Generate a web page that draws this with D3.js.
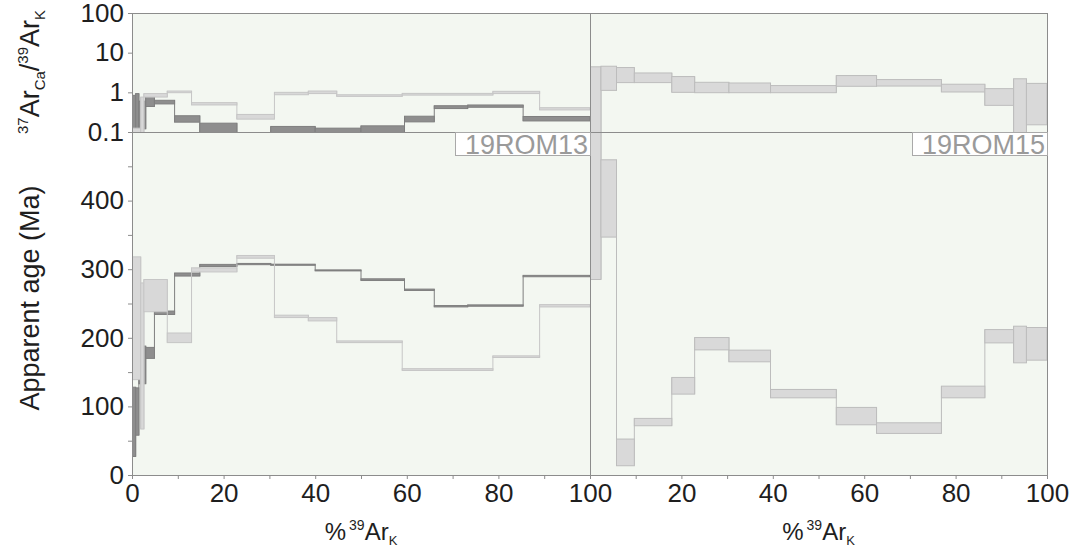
<!DOCTYPE html>
<html>
<head>
<meta charset="utf-8">
<script src="https://cdn.jsdelivr.net/npm/d3@7"></script>
<style>
  html, body { margin: 0; padding: 0; background: #fff; }
  svg { display: block; font-family: "Liberation Sans", Arial, Helvetica, sans-serif; }
</style>
</head>
<body>
<svg id="chart" width="1073" height="550"></svg>
<script>
// ---- 19ROM13, aliquot in dark grey: step edges (% 39ArK) and 2-sigma ranges ----
const rom13aEdges = [0, 0.8, 1.5, 3.0, 4.9, 9.3, 14.8, 22.9, 30.3, 40, 50, 59.5, 66, 73.3, 85.4, 100];
const rom13aAgeLo = [27, 58, 133, 170, 234, 290, 304, 306.6, 305.7, 297.5, 283.5, 269, 245, 246, 289];
const rom13aAgeHi = [128, 127, 188, 186, 239, 294.5, 307, 308.4, 307.3, 299, 286, 271, 247, 248, 291];
const rom13aCaKLo = [0.11, 0.12, 0.12, 0.44, 0.51, 0.177, 0.096, 0.05, 0.095, 0.095, 0.095, 0.18, 0.39, 0.42, 0.19];
const rom13aCaKHi = [0.84, 0.93, 0.6, 0.79, 0.63, 0.257, 0.167, 0.09, 0.138, 0.125, 0.143, 0.25, 0.46, 0.48, 0.246];

// ---- 19ROM13, aliquot in light grey ----
const rom13bEdges = [0, 1.9, 2.6, 7.7, 13, 22.9, 31.1, 38.5, 44.7, 59, 78.8, 89, 100];
const rom13bAgeLo = [139, 67, 238, 193, 296, 316, 229.5, 224.6, 193, 152.4, 171.3, 245];
const rom13bAgeHi = [318, 280, 285, 207, 302, 320, 233, 229.5, 195.5, 155, 173.7, 248.4];
const rom13bCaKLo = [0.096, 0.096, 0.76, 0.98, 0.48, 0.211, 0.87, 0.93, 0.79, 0.85, 0.93, 0.36];
const rom13bCaKHi = [0.125, 0.76, 0.93, 1.08, 0.55, 0.277, 1.0, 1.08, 0.87, 0.94, 1.06, 0.41];

// ---- 19ROM15 ----
const rom15Edges = [0, 2.4, 5.8, 9.7, 17.9, 22.9, 30.4, 39.5, 53.9, 62.7, 76.9, 86.4, 92.7, 95.5, 100];
const rom15AgeLo = [285, 346.8, 13.5, 71.8, 117.9, 182.4, 165, 112.5, 73.2, 60.6, 112.5, 192.6, 163.5, 167.4];
const rom15AgeHi = [540, 459.5, 52.4, 82.5, 142.2, 200.4, 182, 124.7, 98.5, 76.1, 129.5, 212, 216.9, 215];
const rom15CaKLo = [0.05, 1.12, 1.76, 1.76, 1.0, 0.98, 0.98, 0.98, 1.42, 1.44, 1.02, 0.47, 0.09, 0.152];
const rom15CaKHi = [4.4, 4.55, 4.22, 3.08, 2.5, 1.79, 1.72, 1.48, 2.65, 2.1, 1.6, 1.24, 2.2, 1.68];

// ---- axis ticks ----
const ageTicks = [0, 50, 100, 150, 200, 250, 300, 350, 400, 450, 500];
const ageLabels = [0, 100, 200, 300, 400];
const cakTicks = [0.1, 1, 10, 100];
const cakLabels = ["0.1", "1", "10", "100"];
const pctTicks = [0, 10, 20, 30, 40, 50, 60, 70, 80, 90, 100];
const pctLabelsLeft = [0, 20, 40, 60, 80, 100];
const pctLabelsRight = [20, 40, 60, 80, 100];
const sampleNames = ["19ROM13", "19ROM15"];

// ---- layout ----
const X0 = 132, XMID = 590, X1 = 1047;
const Y0 = 13, YSPLIT = 132, Y1 = 475;

const svg = d3.select("#chart");

const xL = d3.scaleLinear().domain([0, 100]).range([X0, XMID]);
const xR = d3.scaleLinear().domain([0, 100]).range([XMID, X1]);
const yCa = d3.scaleLog().domain([0.1, 100]).range([YSPLIT, Y0]);
const yAge = d3.scaleLinear().domain([0, 500]).range([Y1, YSPLIT]);

// plot background
svg.append("rect")
  .attr("x", X0).attr("y", Y0)
  .attr("width", X1 - X0).attr("height", Y1 - Y0)
  .attr("fill", "#f3f7f1");

// clip regions for the four sub-panels
const defs = svg.append("defs");
function clip(id, xa, xb, ya, yb) {
  defs.append("clipPath").attr("id", id)
    .append("rect").attr("x", xa).attr("y", ya)
    .attr("width", xb - xa).attr("height", yb - ya);
}
clip("cTL", X0, XMID, Y0, YSPLIT);
clip("cBL", X0, XMID, YSPLIT, Y1);
clip("cTR", XMID, X1, Y0, YSPLIT);
clip("cBR", XMID, X1, YSPLIT, Y1);

// step-heating spectrum: boxes joined by vertical risers
function spectrum(x, y, edges, lo, hi, fill, stroke, clipId) {
  const steps = lo.map((l, i) => ({ x0: edges[i], x1: edges[i + 1], lo: l, hi: hi[i] }));
  const g = svg.append("g").attr("clip-path", `url(#${clipId})`);
  g.selectAll("line")
    .data(steps.slice(1))
    .join("line")
    .attr("x1", d => x(d.x0)).attr("x2", d => x(d.x0))
    .attr("y1", (d, i) => y(Math.max(d.hi, steps[i].hi)))
    .attr("y2", (d, i) => y(Math.min(d.lo, steps[i].lo)))
    .attr("stroke", stroke).attr("stroke-width", 1);
  g.selectAll("rect")
    .data(steps)
    .join("rect")
    .attr("x", d => x(d.x0))
    .attr("width", d => x(d.x1) - x(d.x0))
    .attr("y", d => y(d.hi))
    .attr("height", d => Math.max(1, y(d.lo) - y(d.hi)))
    .attr("fill", fill).attr("stroke", stroke).attr("stroke-width", 1);
}

const dark = ["#8e8e8e", "#7f7f7f"];
const light = ["#d8d8d8", "#c6c6c6"];
const pale = ["#d9d9d9", "#bdbdbd"];

spectrum(xL, yCa, rom13aEdges, rom13aCaKLo, rom13aCaKHi, dark[0], dark[1], "cTL");
spectrum(xL, yAge, rom13aEdges, rom13aAgeLo, rom13aAgeHi, dark[0], dark[1], "cBL");
spectrum(xL, yCa, rom13bEdges, rom13bCaKLo, rom13bCaKHi, light[0], light[1], "cTL");
spectrum(xL, yAge, rom13bEdges, rom13bAgeLo, rom13bAgeHi, light[0], light[1], "cBL");
spectrum(xR, yCa, rom15Edges, rom15CaKLo, rom15CaKHi, pale[0], pale[1], "cTR");
spectrum(xR, yAge, rom15Edges, rom15AgeLo, rom15AgeHi, pale[0], pale[1], "cBR");

// frame and panel dividers
const frame = svg.append("g").attr("stroke", "#8c8c8c").attr("stroke-width", 1)
  .attr("shape-rendering", "crispEdges").attr("fill", "none");
frame.append("rect").attr("x", X0).attr("y", Y0)
  .attr("width", X1 - X0).attr("height", Y1 - Y0);
frame.append("line").attr("x1", X0).attr("x2", X1).attr("y1", YSPLIT).attr("y2", YSPLIT);
frame.append("line").attr("x1", XMID).attr("x2", XMID).attr("y1", Y0).attr("y2", Y1);

// sample labels
const labelBoxes = [[455, XMID], [912, X1]];
labelBoxes.forEach(([xa, xb], i) => {
  svg.append("rect").attr("x", xa).attr("y", YSPLIT).attr("width", xb - xa).attr("height", 23)
    .attr("fill", "#ffffff").attr("stroke", "#a9a9a9").attr("stroke-width", 1)
    .attr("shape-rendering", "crispEdges");
  svg.append("text").attr("x", xb - 2).attr("y", YSPLIT + 21.5)
    .attr("text-anchor", "end").attr("font-size", 27).attr("fill", "#9a9a9a")
    .text(sampleNames[i]);
});

// axes
function styleAxis(g) {
  g.select(".domain").remove();
  g.selectAll(".tick line").attr("stroke", "#8c8c8c");
  g.selectAll(".tick text").attr("fill", "#1e1e1e").attr("font-size", 26)
    .attr("font-family", "\"Liberation Sans\", Arial, Helvetica, sans-serif");
}

svg.append("g").attr("transform", `translate(${X0},0)`)
  .call(d3.axisLeft(yAge).tickValues(ageTicks).tickSize(4).tickPadding(4)
    .tickFormat(d => ageLabels.includes(d) ? String(d) : ""))
  .call(styleAxis);

svg.append("g").attr("transform", `translate(${X0},0)`)
  .call(d3.axisLeft(yCa).tickValues(cakTicks).tickSize(4).tickPadding(4)
    .tickFormat((d, i) => cakLabels[i]))
  .call(styleAxis);

svg.append("g").attr("transform", `translate(0,${Y1})`)
  .call(d3.axisBottom(xL).tickValues(pctTicks).tickSize(4).tickPadding(5)
    .tickFormat(d => pctLabelsLeft.includes(d) ? String(d) : ""))
  .call(styleAxis);

svg.append("g").attr("transform", `translate(0,${Y1})`)
  .call(d3.axisBottom(xR).tickValues(pctTicks).tickSize(4).tickPadding(5)
    .tickFormat(d => pctLabelsRight.includes(d) ? String(d) : ""))
  .call(styleAxis);

// text with super/subscripts: parts = [text, size, shift, dx]
function rich(sel, parts) {
  let prev = 0;
  parts.forEach(([t, size, shift, dx]) => {
    sel.append("tspan").attr("font-size", size).attr("dy", shift - prev)
      .attr("dx", dx || 0).text(t);
    prev = shift;
  });
}

// x-axis titles
[xL, xR].forEach(x => {
  const t = svg.append("text")
    .attr("x", (x.range()[0] + x.range()[1]) / 2).attr("y", 540)
    .attr("text-anchor", "middle").attr("fill", "#1e1e1e");
  rich(t, [["%", 24, 0], ["39", 14, -10, 3], ["Ar", 24, 0], ["K", 13, 5]]);
});

// y-axis titles
svg.append("text")
  .attr("transform", "translate(39,298) rotate(-90)")
  .attr("text-anchor", "middle").attr("font-size", 27).attr("fill", "#1e1e1e")
  .text("Apparent age (Ma)");

const yt = svg.append("text")
  .attr("transform", "translate(39,72) rotate(-90)")
  .attr("text-anchor", "middle").attr("fill", "#1e1e1e");
rich(yt, [["37", 15, -11], ["Ar", 27, 0], ["Ca", 15, 6], ["/", 27, 0], ["39", 15, -11], ["Ar", 27, 0], ["K", 15, 6]]);
</script>
</body>
</html>
